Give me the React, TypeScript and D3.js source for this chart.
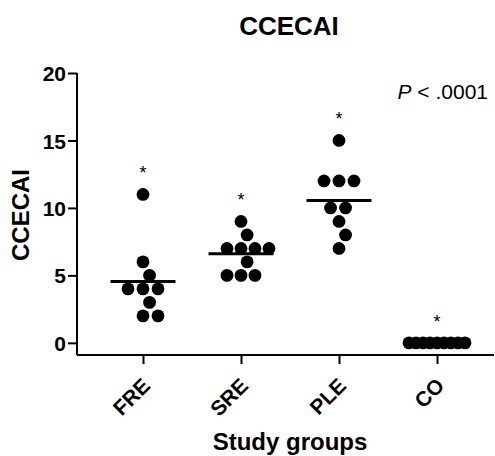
import React, { useEffect, useRef } from 'react';
import * as d3 from 'd3';

// study groups and the CCECAI score of each subject
const groups = ['FRE', 'SRE', 'PLE', 'CO'];
const freValues = [11, 6, 5, 4, 4, 4, 3, 2, 2];
const sreValues = [9, 8, 7, 7, 7, 7, 6, 5, 5, 5];
const pleValues = [15, 12, 12, 12, 10, 10, 9, 8, 7];
const coValues = [0, 0, 0, 0, 0, 0, 0, 0, 0];
const groupMarks = ['*', '*', '*', '*'];
const yTicks = [0, 5, 10, 15, 20];
const pText = '.0001';

const FONT = '"Liberation Sans", Arial, Helvetica, sans-serif';

// simple beeswarm: nearest free horizontal offset for each point
const swarm = (ys: number[], d: number, limit: number): number[] => {
  const order = ys.map((y, i) => i).sort((a, b) => ys[b] - ys[a]);
  const placed: { x: number; y: number }[] = [];
  const out: number[] = new Array(ys.length).fill(0);
  order.forEach((i) => {
    const y = ys[i];
    const spans = placed
      .filter((p) => Math.abs(p.y - y) < d)
      .map((p) => {
        const w = Math.sqrt(d * d - (p.y - y) * (p.y - y));
        return [p.x - w, p.x + w];
      });
    const cands = [0, ...spans.flat()].sort((a, b) =>
      Math.abs(a) - Math.abs(b) || b - a);
    const x = cands.find((c) => spans.every(([a, b]) => c <= a + 1e-6 || c >= b - 1e-6)) ?? 0;
    placed.push({ x, y });
    out[i] = x;
  });
  const m = d3.max(out, (v) => Math.abs(v)) ?? 0;
  return m > limit ? out.map((v) => (v * limit) / m) : out;
};

export default function App() {
  const ref = useRef<SVGSVGElement>(null);

  useEffect(() => {
    const svg = d3.select(ref.current);
    svg.selectAll('*').remove();

    const width = 495;
    const height = 456;
    const left = 77;
    const right = 494;
    const top = 73;
    const bottom = 355;

    const series = [freValues, sreValues, pleValues, coValues];

    const x = d3.scalePoint<string>().domain(groups).range([143, 437]);
    const y = d3.scaleLinear().domain([-0.9, 20]).range([bottom, top]);

    svg.attr('width', width).attr('height', height);

    // title
    svg.append('text')
      .attr('x', 289).attr('y', 35)
      .attr('text-anchor', 'middle')
      .style('font', `bold 26px ${FONT}`)
      .text('CCECAI');

    // y axis
    const yAxis = svg.append('g')
      .attr('transform', `translate(${left},0)`)
      .call(d3.axisLeft(y).tickValues(yTicks).tickSize(9).tickPadding(2).tickSizeOuter(0));
    yAxis.select('.domain').attr('stroke-width', 2).attr('d', `M0,${top}V${bottom}`);
    yAxis.selectAll('.tick line').attr('stroke-width', 2);
    yAxis.selectAll('.tick text')
      .style('font', `bold 21px ${FONT}`).attr('fill', '#000').attr('dy', '0.36em');

    svg.append('text')
      .attr('transform', `translate(29,215) rotate(-90)`)
      .attr('text-anchor', 'middle')
      .style('font', `bold 24px ${FONT}`)
      .text('CCECAI');

    // x axis
    const xAxis = svg.append('g')
      .attr('transform', `translate(0,${bottom})`)
      .call(d3.axisBottom(x).tickSize(9).tickSizeOuter(0));
    xAxis.select('.domain').attr('stroke-width', 2).attr('d', `M${left},0H${right}`);
    xAxis.selectAll('.tick line').attr('stroke-width', 2);
    xAxis.selectAll('.tick text')
      .style('font', `bold 21px ${FONT}`).attr('fill', '#000')
      .attr('text-anchor', 'end')
      .attr('y', 0).attr('dy', 0)
      .attr('transform', 'translate(8,32) rotate(-45)');

    svg.append('text')
      .attr('x', 290).attr('y', 450)
      .attr('text-anchor', 'middle')
      .style('font', `bold 24px ${FONT}`)
      .text('Study groups');

    // P value
    const p = svg.append('text')
      .attr('x', 488).attr('y', 99)
      .attr('text-anchor', 'end')
      .style('font', `21px ${FONT}`);
    p.append('tspan').style('font-style', 'italic').text('P');
    p.append('tspan').text(` < ${pText}`);

    // points, means and marks
    series.forEach((vals, gi) => {
      const cx = x(groups[gi]) as number;
      const offs = swarm(vals.map((v) => y(v)), 15, 28);
      const g = svg.append('g');

      g.selectAll('circle')
        .data(vals)
        .join('circle')
        .attr('cx', (d, i) => cx + offs[i])
        .attr('cy', (d) => y(d))
        .attr('r', 6.4)
        .attr('fill', '#000');

      const mean = d3.mean(vals) as number;
      g.append('line')
        .attr('x1', cx - 32.5).attr('x2', cx + 32.5)
        .attr('y1', y(mean)).attr('y2', y(mean))
        .attr('stroke', '#000').attr('stroke-width', 3);

      g.append('text')
        .attr('x', cx).attr('y', y(d3.max(vals) as number) - 15)
        .attr('text-anchor', 'middle')
        .style('font', `18px ${FONT}`)
        .text(groupMarks[gi]);
    });
  }, []);

  return (
    <svg
      ref={ref}
      style={{ position: 'absolute', left: 0, top: 0, display: 'block', background: '#fff' }}
    />
  );
}
